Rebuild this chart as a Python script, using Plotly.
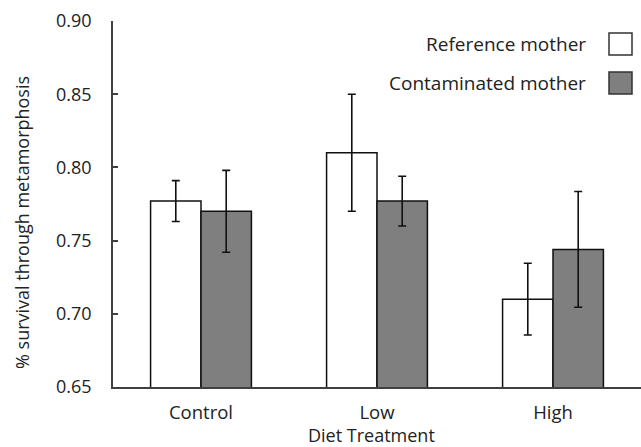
import plotly.graph_objects as go

# Survival through metamorphosis by diet treatment and maternal origin
treatments = ["Control", "Low", "High"]
reference_mean = [0.777, 0.810, 0.710]
reference_err = [0.014, 0.040, 0.0245]
contaminated_mean = [0.770, 0.777, 0.744]
contaminated_err = [0.028, 0.017, 0.0395]
series_names = ["Reference mother", "Contaminated mother"]
y_ticks = [0.65, 0.70, 0.75, 0.80, 0.85, 0.90]

FONT = "Open Sans"
TEXT_COLOR = "#222222"
AXIS_COLOR = "#404040"
GREY = "#7f7f7f"

W, H = 641, 447
ML, MR, MT, MB = 113, 0, 21, 60
plot_w = W - ML - MR
plot_h = H - MT - MB


def px_x(x):
    return (x - ML) / plot_w


def px_y(y):
    return (H - MB - y) / plot_h


fig = go.Figure()
fig.add_trace(go.Bar(
    x=treatments, y=reference_mean, name=series_names[0],
    marker=dict(color="white", line=dict(color="#111111", width=1.5)),
    error_y=dict(type="data", array=reference_err, color="#111111",
                 thickness=1.6, width=4),
    showlegend=False,
))
fig.add_trace(go.Bar(
    x=treatments, y=contaminated_mean, name=series_names[1],
    marker=dict(color=GREY, line=dict(color="#111111", width=1.5)),
    error_y=dict(type="data", array=contaminated_err, color="#111111",
                 thickness=1.6, width=4),
    showlegend=False,
))

fig.update_layout(
    width=W, height=H,
    margin=dict(l=ML, r=MR, t=MT, b=MB, pad=0),
    paper_bgcolor="white", plot_bgcolor="white",
    barmode="group", bargap=0.427, bargroupgap=0,
    font=dict(family=FONT, size=18, color=TEXT_COLOR),
)
fig.update_xaxes(
    range=[-0.5, 2.5], showgrid=False, zeroline=False,
    showline=True, linecolor=AXIS_COLOR, linewidth=1.5,
    ticks="", ticklabelstandoff=8,
    tickfont=dict(family=FONT, size=18.5, color=TEXT_COLOR),
)
fig.update_yaxes(
    range=[0.65, 0.90], tickvals=y_ticks, ticktext=[f"{v:.2f}" for v in y_ticks],
    showgrid=False, zeroline=False,
    showline=True, linecolor=AXIS_COLOR, linewidth=1.5,
    ticks="inside", ticklen=5, tickwidth=1.5, tickcolor=AXIS_COLOR,
    ticklabelstandoff=16,
    tickfont=dict(family=FONT, size=18, color=TEXT_COLOR),
)

# Axis titles
fig.add_annotation(
    text="% survival through metamorphosis", textangle=-90,
    xref="paper", yref="paper", x=px_x(22), y=px_y(223),
    xanchor="center", yanchor="middle", showarrow=False,
    font=dict(family=FONT, size=18, color=TEXT_COLOR),
)
fig.add_annotation(
    text="Diet Treatment",
    xref="paper", yref="paper", x=px_x(371), y=px_y(435),
    xanchor="center", yanchor="middle", showarrow=False,
    font=dict(family=FONT, size=18, color=TEXT_COLOR),
)

# Legend with swatches to the right of the labels
legend_rows = [(series_names[0], "white", 33, 55), (series_names[1], GREY, 72, 94)]
for label, fill, top, bottom in legend_rows:
    fig.add_shape(
        type="rect", xref="paper", yref="paper",
        x0=px_x(609), x1=px_x(632), y0=px_y(bottom), y1=px_y(top),
        fillcolor=fill, line=dict(color="#333333", width=1.5),
    )
    fig.add_annotation(
        text=label, xref="paper", yref="paper",
        x=px_x(588), y=px_y((top + bottom) / 2),
        xanchor="right", yanchor="middle", showarrow=False,
        font=dict(family=FONT, size=19, color=TEXT_COLOR),
    )

fig.write_html("out.html")
